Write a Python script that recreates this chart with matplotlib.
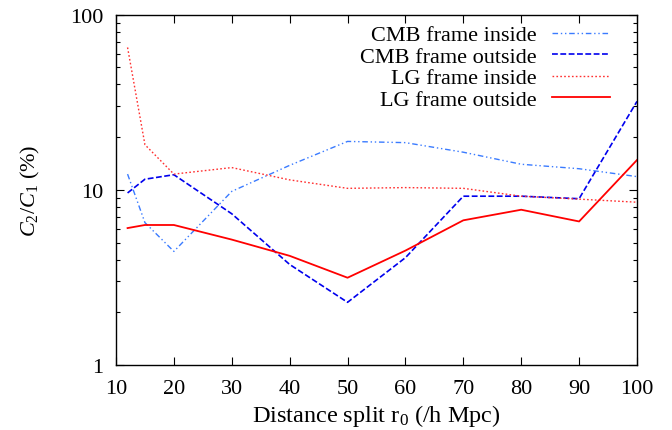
import matplotlib
matplotlib.use('Agg')
import matplotlib.pyplot as plt
from matplotlib.ticker import NullFormatter, LogLocator

plt.rcParams['font.family'] = ['Liberation Serif', 'DejaVu Serif']
plt.rcParams['mathtext.fontset'] = 'custom'
plt.rcParams['mathtext.rm'] = 'Liberation Serif'
plt.rcParams['mathtext.it'] = 'Liberation Serif:italic'

# distance split r0 (/h Mpc)
r0 = [12, 15, 20, 30, 40, 50, 60, 70, 80, 90, 100]

# C2/C1 in percent
cmb_inside = [12.3, 6.5, 4.45, 9.8, 13.8, 18.9, 18.6, 16.4, 14.0, 13.2, 11.9]
cmb_outside = [9.6, 11.5, 12.2, 7.3, 3.75, 2.28, 4.1, 9.2, 9.2, 8.9, 32.0]
lg_inside = [65.0, 18.1, 12.3, 13.4, 11.4, 10.2, 10.3, 10.2, 9.2, 8.85, 8.5]
lg_outside = [6.05, 6.3, 6.3, 5.2, 4.2, 3.15, 4.5, 6.7, 7.7, 6.6, 14.8]

fig = plt.figure(figsize=(6.72, 4.31), dpi=100)
ax = fig.add_axes([0.1726, 0.1508, 0.7753, 0.8128])

ax.plot(r0, cmb_inside, color='#3a7bff', lw=1.0, dashes=(4, 2, 1, 2, 1, 2), label='CMB frame inside')
ax.plot(r0, cmb_outside, color='#0000ee', lw=1.2, dashes=(3.5, 1.5), label='CMB frame outside')
ax.plot(r0, lg_inside, color='#ff3030', lw=1.0, dashes=(1.2, 1.6), label='LG frame inside')
ax.plot(r0, lg_outside, color='#ff0000', lw=1.3, label='LG frame outside')

ax.set_yscale('log')
ax.set_xlim(10, 100)
ax.set_ylim(1, 100)
ax.set_xticks(range(10, 101, 10))
ax.set_yticks([1, 10, 100])
ax.set_yticklabels(['1', '10', '100'])
ax.yaxis.set_minor_locator(LogLocator(base=10, subs=range(2, 10)))
ax.yaxis.set_minor_formatter(NullFormatter())

ax.tick_params(which='both', direction='in', top=True, right=True, labelsize=16, width=0.8)
ax.tick_params(axis='y', which='major', length=6, pad=9)
ax.tick_params(axis='x', which='major', length=6, pad=10)
ax.tick_params(which='minor', length=3)
for s in ax.spines.values():
    s.set_linewidth(1.0)

ax.set_xlabel('Distance split r$_0$ (/h Mpc)', fontsize=17.5, labelpad=3)
ax.set_ylabel('$C_2/C_1$ (%)', fontsize=16, labelpad=20)

ax.legend(loc='upper right', frameon=False, markerfirst=False, fontsize=16,
          handlelength=2.6, handletextpad=0.7, labelspacing=0.04,
          borderpad=0, borderaxespad=0,
          bbox_to_anchor=(0.948, 0.971))

fig.savefig('out.png', dpi=100)
